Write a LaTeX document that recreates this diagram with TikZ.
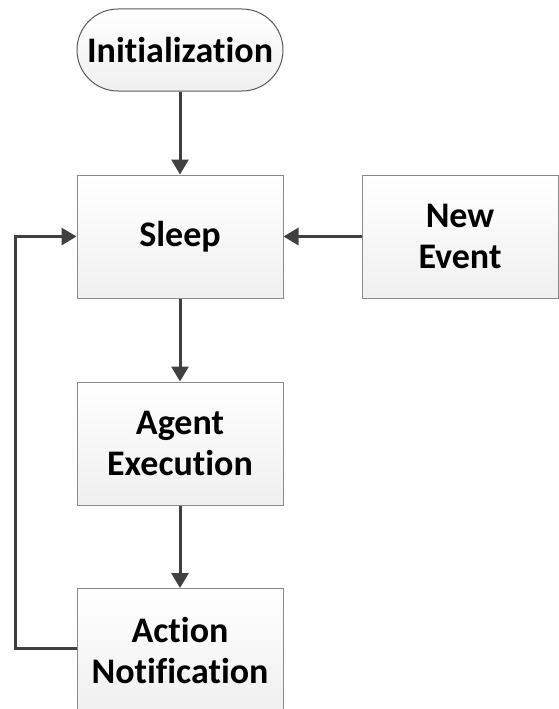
\documentclass[tikz,border=0pt]{standalone}
\usepackage{fontspec}
\setmainfont[Ligatures=NoCommon]{Carlito}
\usetikzlibrary{arrows.meta}
\definecolor{boxline}{HTML}{8A8A8A}
\definecolor{flowline}{HTML}{404040}
\tikzset{
  x=1pt, y=1pt,
  block/.style={draw=boxline, line width=1pt, top color=white, bottom color=black!6,
    font=\bfseries\fontsize{36}{41}\selectfont, align=center,
    minimum width=206pt, minimum height=123pt, inner sep=0pt},
  startnode/.style={block, draw=black!65, rounded corners=41pt, minimum height=82pt},
  flow/.style={draw=flowline, line width=3pt, -{Triangle[length=15pt,width=17pt]}}
}
\begin{document}
\begin{tikzpicture}
\useasboundingbox (0,0) rectangle (559,-709);
\clip (0,0) rectangle (559,-709);
\node[startnode] (init) at (180,-50) {Initialization};
\node[block] (sleep) at (180,-236.5) {Sleep};
\node[block, minimum width=196pt] (event) at (460,-236.5) {New\\Event};
\node[block] (agent) at (180,-443.5) {Agent\\Execution};
\node[block] (action) at (180,-650) {Action\\Notification};
\coordinate (loopbot) at (15,-648);
\coordinate (looptop) at (15,-236.5);
\draw[flow] (init) -- (sleep);
\draw[flow] (event) -- (sleep);
\draw[flow] (sleep) -- (agent);
\draw[flow] (agent) -- (action);
\draw[flow] (action.west |- loopbot) -- (loopbot) -- (looptop) -- (sleep.west);
\end{tikzpicture}
\end{document}
